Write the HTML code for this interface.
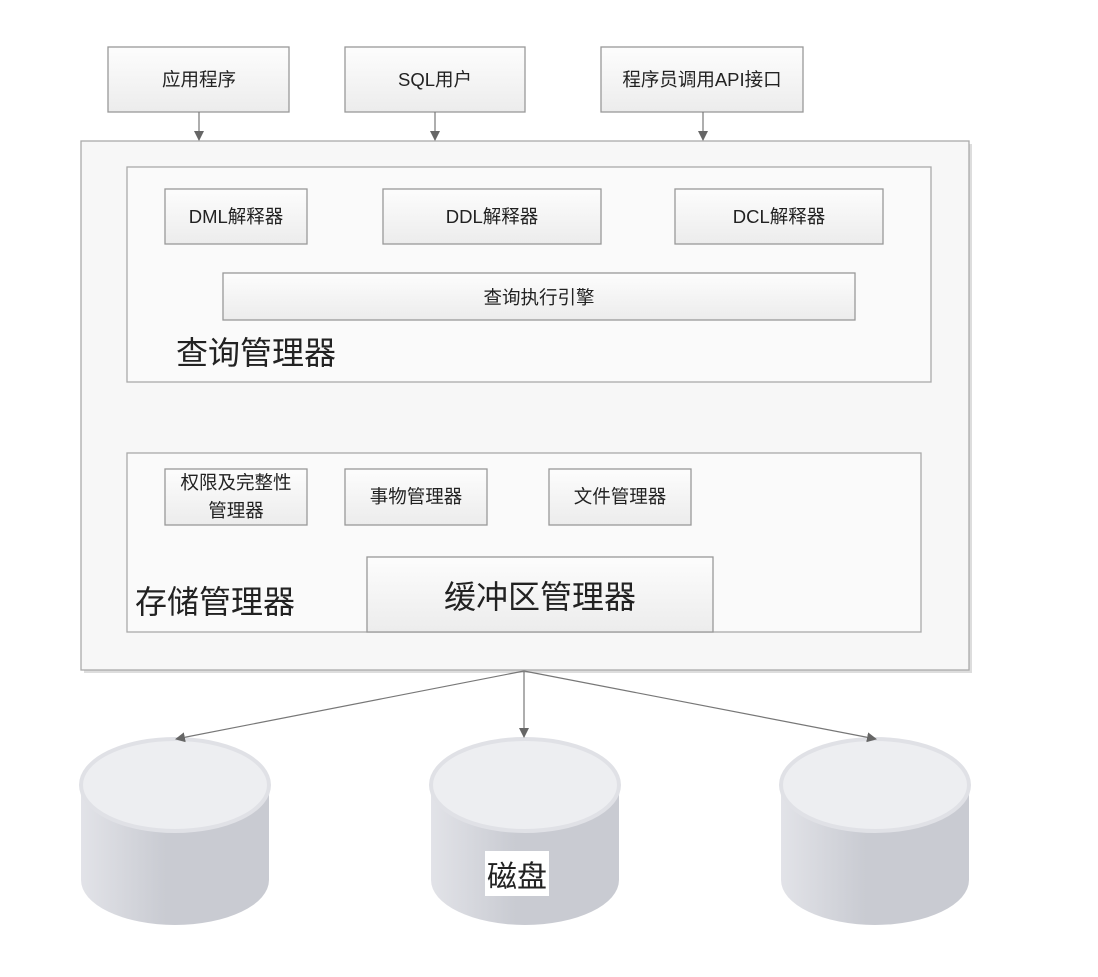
<!DOCTYPE html>
<html><head><meta charset="utf-8"><style>
body{margin:0;background:#fff}
text{font-family:"Liberation Sans","Noto Sans CJK SC",sans-serif;fill:#222}
</style></head><body>
<svg width="1098" height="972" viewBox="0 0 1098 972" xmlns="http://www.w3.org/2000/svg">
<defs>
<linearGradient id="g" x1="0" y1="0" x2="0" y2="1"><stop offset="0" stop-color="#fdfdfd"/><stop offset="1" stop-color="#ececec"/></linearGradient>
<linearGradient id="c" x1="0" y1="0" x2="1" y2="0"><stop offset="0" stop-color="#e2e3e8"/><stop offset="0.45" stop-color="#c9cbd2"/><stop offset="1" stop-color="#c9cbd2"/></linearGradient>
<marker id="a" markerWidth="10" markerHeight="10" refX="9" refY="5" orient="auto" markerUnits="userSpaceOnUse"><path d="M0,0 L10,5 L0,10 Z" fill="#666"/></marker>
</defs>
<g stroke="#aaa" stroke-width="1.3">
<rect x="84" y="144" width="888" height="529" fill="#ddd" stroke="none"/>
<rect x="81" y="141" width="888" height="529" fill="#f7f7f7"/>
<rect x="127" y="167" width="804" height="215" fill="#fafafa"/>
<rect x="127" y="453" width="794" height="179" fill="#fafafa"/>
</g>
<g stroke="#999" stroke-width="1.3" fill="url(#g)">
<rect x="108" y="47" width="181" height="65"/>
<rect x="345" y="47" width="180" height="65"/>
<rect x="601" y="47" width="202" height="65"/>
<rect x="165" y="189" width="142" height="55"/>
<rect x="383" y="189" width="218" height="55"/>
<rect x="675" y="189" width="208" height="55"/>
<rect x="223" y="273" width="632" height="47"/>
<rect x="165" y="469" width="142" height="56"/>
<rect x="345" y="469" width="142" height="56"/>
<rect x="549" y="469" width="142" height="56"/>
<rect x="367" y="557" width="346" height="75"/>
</g>
<g>
<g>
<path d="M81,785 L81,880 A94,45 0 0 0 269,880 L269,785 Z" fill="url(#c)"/><ellipse cx="175" cy="785" rx="94" ry="46" fill="#edeef1" stroke="#e0e1e6" stroke-width="4"/></g>
<g transform="translate(350,0)">
<path d="M81,785 L81,880 A94,45 0 0 0 269,880 L269,785 Z" fill="url(#c)"/><ellipse cx="175" cy="785" rx="94" ry="46" fill="#edeef1" stroke="#e0e1e6" stroke-width="4"/></g>
<g transform="translate(700,0)">
<path d="M81,785 L81,880 A94,45 0 0 0 269,880 L269,785 Z" fill="url(#c)"/><ellipse cx="175" cy="785" rx="94" ry="46" fill="#edeef1" stroke="#e0e1e6" stroke-width="4"/></g>
</g>
<g stroke="#777" stroke-width="1.2" marker-end="url(#a)">
<line x1="199" y1="112" x2="199" y2="140"/>
<line x1="435" y1="112" x2="435" y2="140"/>
<line x1="703" y1="112" x2="703" y2="140"/>
<line x1="524" y1="671" x2="176" y2="739"/>
<line x1="524" y1="671" x2="524" y2="737"/>
<line x1="524" y1="671" x2="876" y2="739"/>
</g>
<rect x="485" y="851" width="64" height="45" fill="#fff"/>
<g font-size="18.5" text-anchor="middle">
<text x="199" y="86">应用程序</text>
<text x="435" y="86">SQL用户</text>
<text x="702" y="86">程序员调用API接口</text>
<text x="236" y="223">DML解释器</text>
<text x="492" y="223">DDL解释器</text>
<text x="779" y="223">DCL解释器</text>
<text x="539" y="304">查询执行引擎</text>
<text x="236" y="489">权限及完整性</text>
<text x="236" y="517">管理器</text>
<text x="416" y="503">事物管理器</text>
<text x="620" y="503">文件管理器</text>
</g>
<g font-size="32">
<text x="176" y="364">查询管理器</text>
<text x="135" y="613">存储管理器</text>
<text x="540" y="608" text-anchor="middle">缓冲区管理器</text>
<text x="517" y="887" text-anchor="middle" font-size="30">磁盘</text>
</g>
</svg>
</body></html>
